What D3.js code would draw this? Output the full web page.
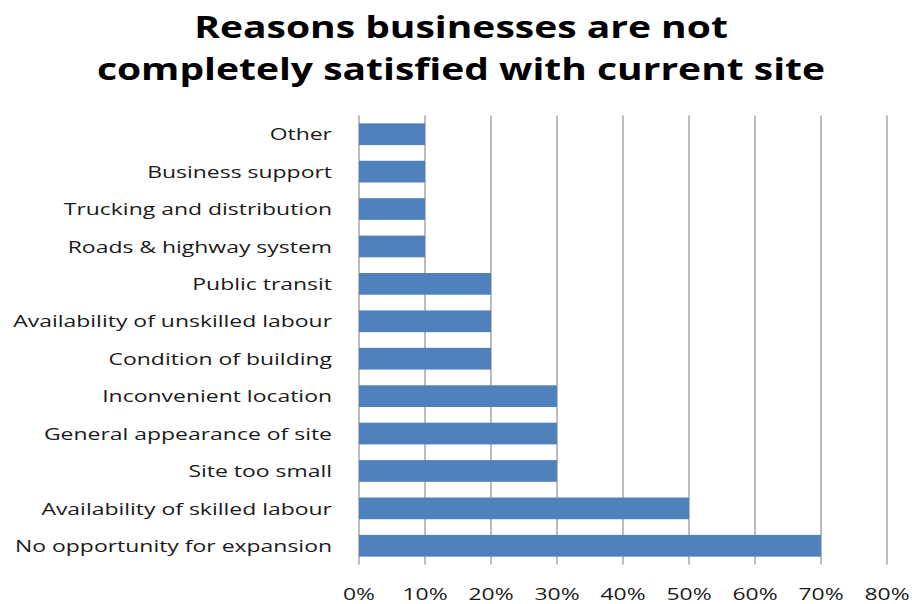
<!DOCTYPE html>
<html>
<head>
<meta charset="utf-8">
<script src="https://cdn.jsdelivr.net/npm/d3@7"></script>
<style>
  html, body { margin: 0; padding: 0; background: #fff; }
  svg { display: block; }
  text { font-family: "Open Sans", sans-serif; }
</style>
</head>
<body>
<svg id="chart" width="912" height="604"></svg>
<script>
// Survey responses: share of businesses citing each reason (%)
const categories = [
  "Other",
  "Business support",
  "Trucking and distribution",
  "Roads & highway system",
  "Public transit",
  "Availability of unskilled labour",
  "Condition of building",
  "Inconvenient location",
  "General appearance of site",
  "Site too small",
  "Availability of skilled labour",
  "No opportunity for expansion"
];
const values = [10, 10, 10, 10, 20, 20, 20, 30, 30, 30, 50, 70];
const tickValues = [0, 10, 20, 30, 40, 50, 60, 70, 80];
const titleLines = ["Reasons businesses are not", "completely satisfied with current site"];

const svg = d3.select("#chart");
const margin = { left: 359, right: 25, top: 115.5, bottom: 39.5 };
const W = 912, H = 604;
const labelStretch = 1.35;  // wide, horizontally stretched lettering
const titleStretch = 1.3;

const x = d3.scaleLinear().domain([0, 80]).range([margin.left, W - margin.right]);
const y = d3.scaleBand().domain(categories).range([margin.top, H - margin.bottom]).paddingInner(0.42).paddingOuter(0.21);

// Title, two centred lines
const titleX = 461;
const title = svg.append("g").attr("transform", `translate(${titleX},0) scale(${titleStretch},1)`)
  .append("text")
  .attr("text-anchor", "middle")
  .attr("font-weight", 700)
  .attr("font-size", 30)
  .attr("fill", "#000");
titleLines.forEach((line, i) => {
  title.append("tspan").attr("x", 0).attr("y", 38 + i * 42.5).text(line);
});

// Vertical gridlines
svg.append("g").selectAll("line").data(tickValues).join("line")
  .attr("x1", d => x(d)).attr("x2", d => x(d))
  .attr("y1", margin.top).attr("y2", H - margin.bottom)
  .attr("stroke", "#a6a6a6").attr("stroke-width", 1.5);

// Bars
svg.append("g").selectAll("rect").data(categories).join("rect")
  .attr("x", x(0))
  .attr("y", d => y(d))
  .attr("width", (d, i) => x(values[i]) - x(0))
  .attr("height", y.bandwidth())
  .attr("fill", "#4f81bd");

// Category labels
const catPad = 27;
const yAxis = d3.axisLeft(y).tickSize(0).tickPadding(catPad);
const gy = svg.append("g").attr("transform", `translate(${margin.left},0)`).call(yAxis);
gy.select(".domain").remove();
gy.selectAll("text")
  .attr("font-size", 17)
  .attr("fill", "#1a1a1a")
  .attr("dy", "0.36em")
  .attr("x", -catPad / labelStretch)
  .attr("transform", `scale(${labelStretch},1)`)
  .style("font-family", "'Open Sans', sans-serif");

// Percentage labels
const xAxis = d3.axisBottom(x).tickValues(tickValues).tickFormat(d => d + "%").tickSize(0).tickPadding(23);
const gx = svg.append("g").attr("transform", `translate(0,${H - margin.bottom})`).call(xAxis);
gx.select(".domain").remove();
gx.selectAll("text")
  .attr("font-size", 17)
  .attr("fill", "#1a1a1a")
  .attr("transform", `scale(${labelStretch},1)`)
  .style("font-family", "'Open Sans', sans-serif");
// keep each stretched tick label centred on its gridline
gx.selectAll(".tick").each(function(d) {
  d3.select(this).attr("transform", `translate(${x(d)},0)`);
});
</script>
</body>
</html>
